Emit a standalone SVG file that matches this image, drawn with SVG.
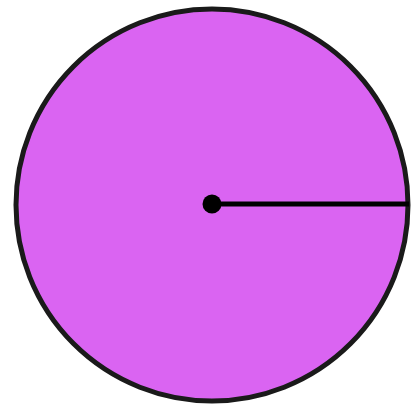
<svg xmlns="http://www.w3.org/2000/svg" width="411" height="415" viewBox="0 0 411 415">
<style>
.shape{fill:#da64f2;stroke:#1a1a1a;stroke-width:5}
.conn{stroke:#000;stroke-width:5;fill:none}
</style>
<rect width="411" height="415" fill="#ffffff"/>
<g id="circle"><circle class="shape" cx="212" cy="205" r="196"/></g>
<g id="connectors"><line class="conn" x1="212" y1="204" x2="409" y2="204"/></g>
<g id="center"><circle cx="212" cy="204" r="9.5" fill="#000"/></g>
</svg>
